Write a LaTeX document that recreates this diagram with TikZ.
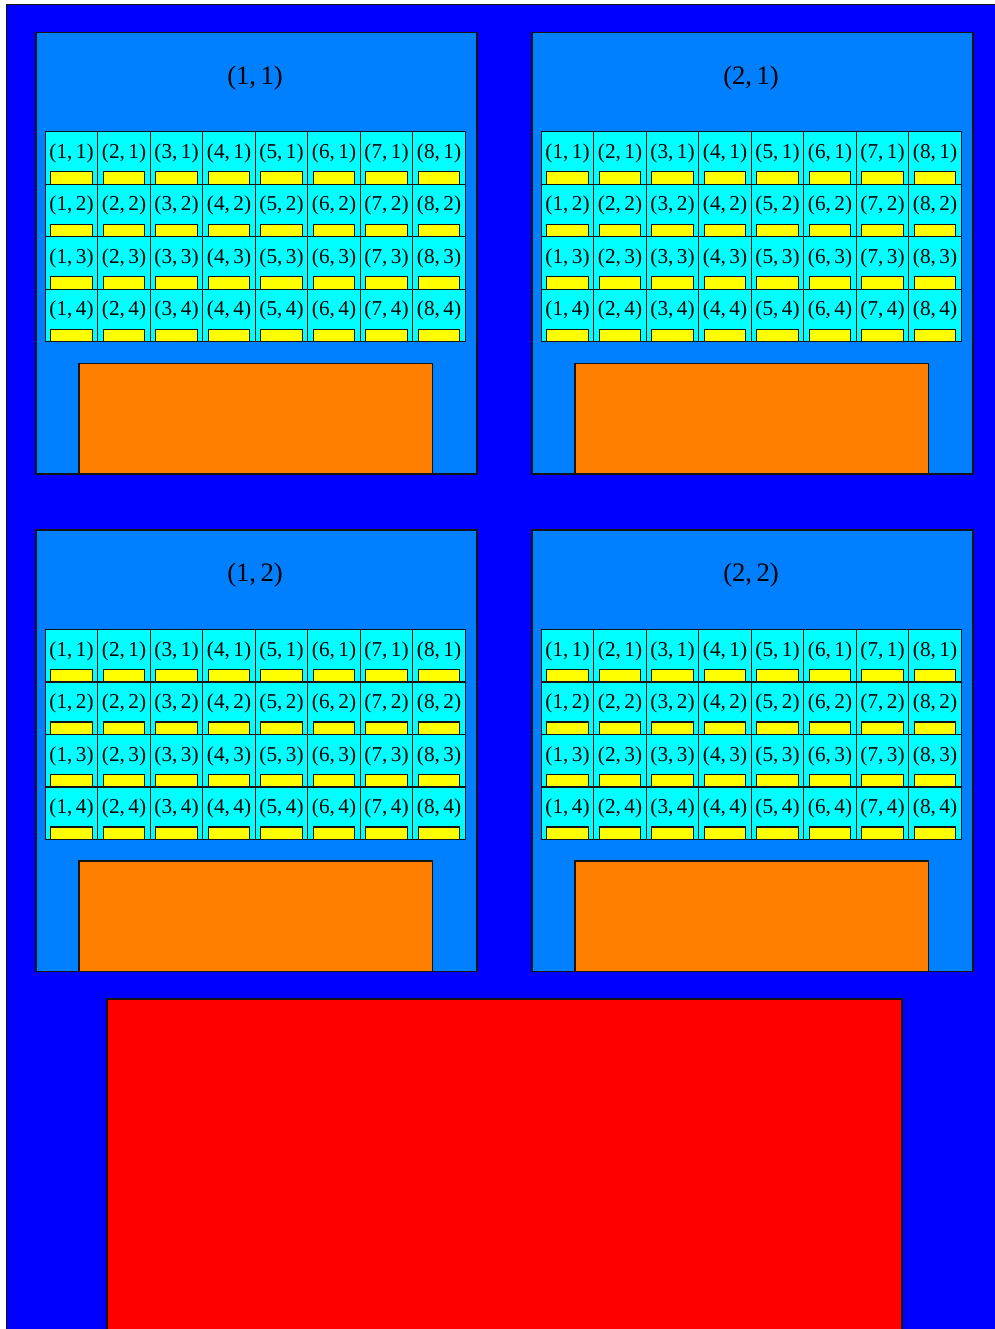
\documentclass[tikz,border=0pt]{standalone}
\usepackage{fontspec}
\setmainfont{Liberation Serif}
\usetikzlibrary{calc}
\definecolor{outerblue}{RGB}{0,0,255}
\definecolor{panelblue}{RGB}{0,128,255}
\definecolor{cellcyan}{RGB}{0,255,255}
\definecolor{baryellow}{RGB}{255,255,0}
\definecolor{boxorange}{RGB}{255,128,0}
\definecolor{boxred}{RGB}{255,0,0}
\definecolor{edge}{RGB}{20,20,20}
\begin{document}
\begin{tikzpicture}[x=0.5pt,y=-0.5pt,
  shp/.style={draw=edge, line width=0.6pt, inner sep=0pt, outer sep=0pt, rectangle},
  panel/.style={shp, fill=panelblue, minimum width=220.5pt, minimum height=220.8pt, anchor=north west},
  cell/.style={shp, fill=cellcyan, minimum width=26.25pt, minimum height=26.25pt, anchor=north west},
  bar/.style={shp, fill=baryellow, minimum width=20.75pt, minimum height=6.25pt, anchor=south west},
  core/.style={shp, fill=boxorange, minimum width=176.85pt, minimum height=55.35pt, anchor=south west},
  big/.style={shp, fill=boxred, minimum width=397.5pt, minimum height=200pt, anchor=north west},
  ttl/.style={inner sep=0pt, font=\fontsize{13.3}{16}\selectfont},
  lbl/.style={inner sep=0pt, font=\fontsize{10.6}{12}\selectfont}]
\useasboundingbox (0,0) rectangle (995,1329);
\clip (0,0) rectangle (995,1329);
\fill[white] (0,0) rectangle (995,1329);
\node[shp, fill=outerblue, minimum width=520pt, minimum height=680pt, anchor=north west] (outer) at (6.5,4.5) {};
\foreach \i/\j/\px/\py in {1/1/36/32.3, 2/1/532/32.3, 1/2/36/530, 2/2/532/530} {
  \node[panel] (p\i\j) at (\px,\py) {};
  \node[ttl] (t\i\j) at ($(p\i\j.north)+(-1.5,45.5)$) {(\i,\,\j)};
  \foreach \c in {1,...,8} {
    \foreach \r in {1,...,4} {
      \node[cell] (c\i\j-\c\r) at (\px+9.3+52.5*\c-52.5, \py+99.5+52.5*\r-52.5) {};
      \node[lbl] (l\i\j-\c\r) at ($(c\i\j-\c\r.north)+(0,21.5)$) {(\c,\,\r)};
      \node[bar] (y\i\j-\c\r) at ($(c\i\j-\c\r.south west)+(5.5,0)$) {};
    }
  }
  \node[core] (o\i\j) at ($(p\i\j.south west)+(43,0)$) {};
}
\node[big] (mem) at (107,999) {};
\end{tikzpicture}
\end{document}
